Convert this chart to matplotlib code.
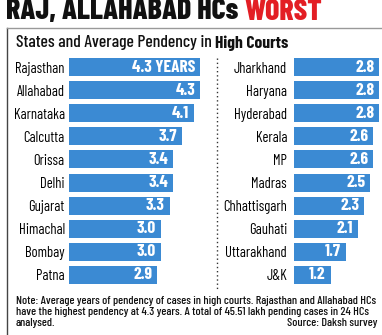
import matplotlib.pyplot as plt
from matplotlib.lines import Line2D

plt.rcParams['font.family'] = ['Barlow Condensed', 'DejaVu Sans']

# left column
left_names = ['Rajasthan', 'Allahabad', 'Karnataka', 'Calcutta', 'Orissa',
              'Delhi', 'Gujarat', 'Himachal', 'Bombay', 'Patna']
left_vals = [4.3, 4.3, 4.1, 3.7, 3.4, 3.4, 3.3, 3.0, 3.0, 2.9]
# right column
right_names = ['Jharkhand', 'Haryana', 'Hyderabad', 'Kerala', 'MP',
               'Madras', 'Chhattisgarh', 'Gauhati', 'Uttarakhand', 'J&K']
right_vals = [2.8, 2.8, 2.8, 2.6, 2.6, 2.5, 2.3, 2.1, 1.7, 1.2]

note_lines = ['Note: Average years of pendency of cases in high courts. Rajasthan and Allahabad HCs',
              'have the highest pendency at 4.3 years. A total of 45.51 lakh pending cases in 24 HCs',
              'analysed.']

W, H = 382, 335
blue = '#3b8ad3'
fig = plt.figure(figsize=(W / 100, H / 100), dpi=100)

def px(x0, y0, w, h):
    # pixel box (top-left origin) -> figure fraction
    return [x0 / W, 1 - (y0 + h) / H, w / W, h / H]

scale = 30.5
top, pitch = 55.5, 23.1

def panel(x0, names, vals, xmax, pad, first_label=None):
    ax = fig.add_axes(px(x0, top, xmax * scale, pitch * len(names)))
    y = list(range(len(names)))
    ax.barh(y, vals, height=0.78, color=blue)
    ax.set_xlim(0, xmax)
    ax.set_ylim(len(names) - 0.5, -0.5)
    ax.set_yticks(y, names)
    ax.tick_params(axis='y', length=0, pad=pad, labelsize=10.5)
    ax.set_xticks([])
    for s in ax.spines.values():
        s.set_visible(False)
    for i, v in enumerate(vals):
        lab = f'{v:.1f}'
        if i == 0 and first_label:
            lab = first_label
        ax.annotate(lab, (v, i), xytext=(-3.5, 0), textcoords='offset points',
                    ha='right', va='center', color='white',
                    fontsize=12.5, fontweight='bold')
    return ax

panel(69, left_names, left_vals, 4.3, 3, first_label='4.3 YEARS')
panel(294, right_names, right_vals, 2.8, 5)

# frame lines and separator
fig.add_artist(Line2D([7 / W, 7 / W], [0, 1 - 28 / H], color='#444444', lw=1))
fig.add_artist(Line2D([7 / W, 1], [1 - 28 / H, 1 - 28 / H], color='#999999', lw=1))
fig.add_artist(Line2D([217 / W, 217 / W], [1 - 58 / H, 1 - 290 / H],
                      color='#333333', lw=1, ls=(0, (1, 2))))

# title
t = fig.text(6 / W, 1 - 12 / H, 'RAJ, ALLAHABAD HCs ', fontsize=21.5,
             fontweight=800, va='center', ha='left', color='#111111')
fig.canvas.draw()
bb = t.get_window_extent()
fig.text(bb.x1 / W, 1 - 12 / H, 'WORST', fontsize=21.5, fontweight=800,
         va='center', ha='left', color='#e31e24')

# subtitle
s = fig.text(16 / W, 1 - 43 / H, 'States and Average Pendency in ', fontsize=12.7,
             fontweight=500, va='center', ha='left', color='#111111')
fig.canvas.draw()
bb = s.get_window_extent()
fig.text(bb.x1 / W, 1 - 43 / H, 'High Courts', fontsize=12.7, fontweight='bold',
         va='center', ha='left', color='#111111')

# note, one text per line
for k, line in enumerate(note_lines):
    fig.text(16 / W, 1 - (301 + 11 * k) / H, line, fontsize=8.7, fontweight=500,
             va='center', ha='left', color='#111111')
fig.text(377 / W, 1 - 323 / H, 'Source: Daksh survey', fontsize=8.7, fontweight=500,
         va='center', ha='right', color='#111111')

fig.savefig('out.png', dpi=100)
